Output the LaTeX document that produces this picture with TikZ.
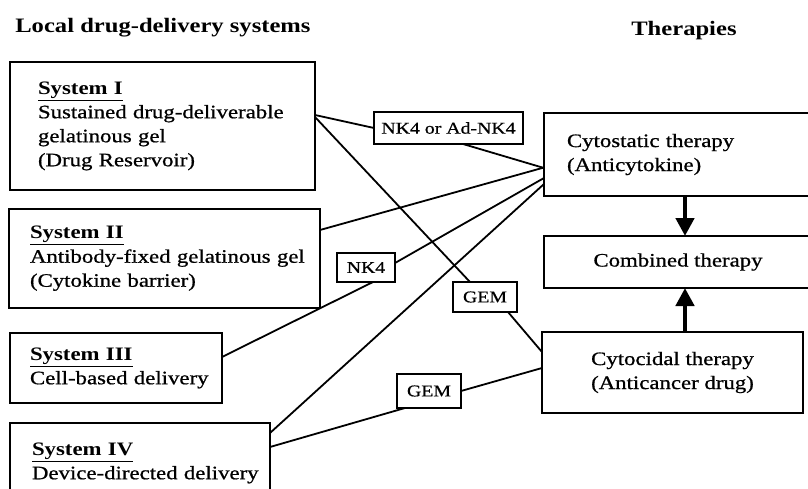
\documentclass[tikz,border=0pt]{standalone}
\usepackage{fontspec}
\setmainfont[FakeStretch=1.2, UprightFeatures={FakeBold=0.8}]{Liberation Serif}
\usetikzlibrary{arrows.meta,calc}
\newcommand{\sysname}[1]{\underline{\textbf{#1}}}

\begin{document}
\begin{tikzpicture}[x=1pt, y=-1pt, outer sep=0pt, line width=1.8pt,
    >={Triangle[length=18pt,width=18pt]},
    font=\fontsize{19}{24}\selectfont,
    sysbox/.style={draw, anchor=north west, align=left, inner ysep=0pt},
    therbox/.style={draw, anchor=north west, inner ysep=0pt},
    agent/.style={draw, inner sep=0pt, font=\fontsize{16.5}{18}\selectfont}]

\useasboundingbox (0,0) rectangle (808,489);

\node[anchor=base west, font=\fontsize{20.5}{24}\selectfont\bfseries] at (12,33) (HEAD_SYS) {Local drug-delivery systems};
\node[anchor=base west, font=\fontsize{20.5}{24}\selectfont\bfseries] at (628,36) (HEAD_THER) {Therapies};

\node[sysbox, text width=249pt, inner xsep=28pt, minimum height=128pt] at (10,62) (SYS_I)
    {\sysname{System I}\\ \mbox{Sustained drug-deliverable}\\ gelatinous gel\\ (Drug Reservoir)};
\node[sysbox, text width=269pt, inner xsep=21pt, minimum height=99pt] at (9,209) (SYS_II)
    {\sysname{System II}\\ \mbox{Antibody-fixed gelatinous gel}\\ (Cytokine barrier)};
\node[sysbox, text width=172pt, inner xsep=20pt, minimum height=70pt] at (10,333) (SYS_III)
    {\sysname{System III}\\ \mbox{Cell-based delivery}};
\node[sysbox, text width=216pt, inner xsep=22pt, minimum height=80pt] at (10,423) (SYS_IV)
    {\sysname{System IV}\\ \mbox{Device-directed delivery}};

\node[therbox, align=left, text width=245pt, inner xsep=23pt, minimum height=83pt] at (544,113) (CYTOSTATIC)
    {Cytostatic therapy\\ (Anticytokine)};
\node[therbox, minimum width=268pt, minimum height=52pt] at (544,236) (COMBINED) {Combined therapy};
\node[therbox, align=left, minimum width=261pt, minimum height=81pt] at (542,332) (CYTOCIDAL)
    {Cytocidal therapy\\ (Anticancer drug)};

\node[agent, minimum width=149pt, minimum height=32pt] at (448.5,128) (NK4_AD) {NK4 or Ad-NK4};
\node[agent, minimum width=58pt, minimum height=29pt] at (366,267.5) (NK4) {NK4};
\node[agent, minimum width=64pt, minimum height=30pt] at (485,297) (GEM_A) {GEM};
\node[agent, minimum width=64pt, minimum height=34pt] at (429,391) (GEM_B) {GEM};

\draw ($(SYS_I.east)+(0,-11)$) -- (NK4_AD.west);
\draw ($(NK4_AD.south)+(14.5,0)$) -- ($(CYTOSTATIC.west)+(0,13.5)$);
\draw ($(SYS_I.east)+(0,-9)$) -- ($(GEM_A.north)+(-15,0)$);
\draw ($(GEM_A.south)+(23,0)$) -- ($(CYTOCIDAL.west)+(0,-20.5)$);
\draw ($(SYS_II.east)+(0,-28.5)$) -- ($(CYTOSTATIC.west)+(0,13)$);
\draw ($(SYS_III.east)+(0,-11)$) -- ($(NK4.south)+(7,0)$);
\draw ($(NK4.east)+(0,-4.5)$) -- ($(CYTOSTATIC.west)+(0,23.5)$);
\draw ($(SYS_IV.north east)+(0,10)$) -- ($(CYTOSTATIC.west)+(0,29.5)$);
\draw ($(SYS_IV.north east)+(0,24)$) -- ($(GEM_B.south)+(-24,0)$);
\draw (GEM_B.east) -- ($(CYTOCIDAL.west)+(0,-4.5)$);

\draw[->, line width=4.5pt] ($(CYTOSTATIC.south west)+(141,0)$) -- ($(COMBINED.north west)+(141,0)$);
\draw[->, line width=4.5pt] ($(CYTOCIDAL.north west)+(143,0)$) -- ($(COMBINED.south west)+(141,0)$);
\end{tikzpicture}
\end{document}
